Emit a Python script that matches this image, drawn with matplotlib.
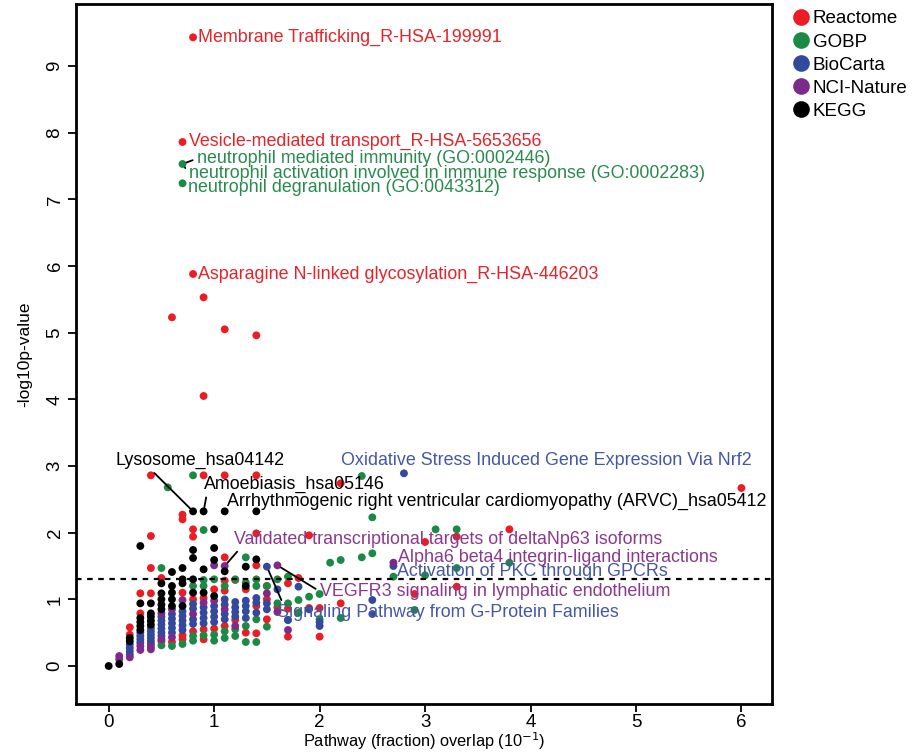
import matplotlib
matplotlib.use("Agg")
import matplotlib.pyplot as plt
from matplotlib.lines import Line2D

plt.rcParams["font.family"] = ["Liberation Sans", "DejaVu Sans"]

# overlap column (x) -> list of -log10 p values, one dict per source
reactome = {
    0.2: [0.58, 0.47],
    0.3: [1.09, 0.79],
    0.4: [2.86, 1.95, 1.47, 1.09],
    0.5: [1.32, 0.37],
    0.6: [5.23, 0.36],
    0.7: [7.86, 2.27, 2.2, 1.1, 0.46, 0.4],
    0.8: [9.43, 5.88, 2.05, 1.94, 1.0, 0.52],
    0.9: [5.53, 4.05, 2.86, 1.02, 0.55, 0.4],
    1.0: [1.15, 0.56],
    1.1: [5.05, 2.86, 1.63, 1.28, 1.13, 0.6],
    1.2: [1.29, 0.69],
    1.3: [1.15, 0.5],
    1.4: [4.96, 2.86, 1.99, 1.51, 0.9, 0.49],
    1.5: [1.2, 1.0, 0.7],
    1.6: [0.88],
    1.7: [1.24, 0.86, 0.44],
    1.8: [1.32],
    1.9: [1.96, 0.87],
    2.0: [0.87, 0.44],
    2.2: [2.74, 0.94],
    2.9: [1.08],
    3.0: [1.86],
    3.3: [1.94, 1.19],
    3.8: [2.05],
    6.0: [2.67],
}
gobp = {
    0.5: [1.47, 0.31],
    0.56: [2.68],
    0.6: [0.3],
    0.7: [7.53, 7.24, 0.33],
    0.8: [2.86, 1.2, 0.45, 0.38],
    0.9: [2.04, 1.29, 1.2, 0.46],
    1.0: [1.3, 0.47, 0.38],
    1.1: [1.2, 0.52, 0.42],
    1.2: [1.3, 0.55, 0.45],
    1.3: [1.63, 1.25, 0.6, 0.36],
    1.4: [1.3, 1.2, 0.7, 0.36],
    1.5: [1.2, 0.59],
    1.6: [1.3, 0.94],
    1.7: [1.34, 0.94, 0.69],
    1.8: [0.99, 0.8],
    1.9: [1.04],
    2.0: [1.08, 0.7],
    2.1: [1.55],
    2.2: [1.59, 0.72],
    2.4: [2.85, 1.63],
    2.5: [2.23, 1.69],
    2.7: [1.34],
    2.9: [0.84],
    3.0: [1.36],
    3.1: [2.05],
    3.3: [2.05, 1.47],
    3.8: [1.55],
}
biocarta = {
    0.2: [0.32, 0.27, 0.22, 0.17],
    0.3: [0.5, 0.45, 0.4, 0.35],
    0.4: [0.57, 0.52, 0.47, 0.42, 0.37, 0.33],
    0.5: [0.74, 0.68, 0.62, 0.56, 0.5, 0.45],
    0.6: [0.78, 0.71, 0.64, 0.57, 0.5],
    0.7: [0.82, 0.75, 0.68, 0.61, 0.54],
    0.8: [0.93, 0.86, 0.7, 0.63],
    0.9: [0.88, 0.8, 0.72, 0.64],
    1.0: [0.9, 0.82, 0.74, 0.66],
    1.1: [1.0, 0.92, 0.78, 0.7],
    1.2: [0.96, 0.88, 0.81, 0.74],
    1.3: [0.98, 0.9, 0.82, 0.72],
    1.4: [1.02, 0.95, 0.8],
    1.5: [1.49, 0.94, 0.85],
    1.6: [1.15],
    1.7: [0.69],
    1.8: [1.19],
    1.9: [0.85],
    2.0: [0.66, 0.6],
    2.5: [0.99, 0.78],
    2.7: [1.5],
    2.8: [2.89],
}
nci_nature = {
    0.1: [0.15, 0.1],
    0.2: [0.13],
    0.3: [0.3, 0.24],
    0.4: [0.29, 0.25],
    0.5: [0.79, 0.4],
    0.6: [0.85, 0.43],
    0.7: [0.99],
    0.8: [0.78],
    0.9: [0.95],
    1.0: [1.51, 0.98],
    1.1: [1.5, 0.85],
    1.2: [0.6],
    1.5: [1.09],
    1.6: [1.51, 0.81],
    1.7: [0.54],
    2.7: [1.55],
}
kegg = {
    0.0: [0.0],
    0.1: [0.03],
    0.2: [0.42, 0.37],
    0.3: [1.8, 0.94, 0.72, 0.66, 0.6, 0.54],
    0.4: [0.94, 0.79, 0.74, 0.68, 0.62],
    0.5: [1.24, 1.09, 1.0, 0.92, 0.85],
    0.6: [1.41, 1.2, 1.1, 1.0, 0.9],
    0.7: [1.47, 1.3, 1.24, 0.9],
    0.8: [2.32, 1.74, 1.62, 1.3, 1.1],
    0.9: [2.32, 1.45, 1.1],
    1.0: [2.05, 1.77, 1.59, 1.05],
    1.1: [2.32, 1.42],
    1.3: [1.49, 1.2],
    1.4: [2.32, 1.6],
}

sources = ["Reactome", "GOBP", "BioCarta", "NCI-Nature", "KEGG"]
source_data = [reactome, gobp, biocarta, nci_nature, kegg]
dot_colors = ["#ec1c24", "#1b8a45", "#33499c", "#7d2a8c", "#000000"]
text_colors = ["#e3242b", "#2a8a50", "#4458a6", "#8a3a8e", "#000000"]

# (label, source index, point x, point y, text x, text y, leader start on text or None)
labels = [
    ("Membrane Trafficking_R-HSA-199991", 0, 0.8, 9.43, 0.845, 9.43, None),
    ("Vesicle-mediated transport_R-HSA-5653656", 0, 0.7, 7.86, 0.76, 7.87, None),
    ("neutrophil mediated immunity (GO:0002446)", 1, 0.7, 7.53, 0.835, 7.61, (0, 0.5)),
    ("neutrophil activation involved in immune response (GO:0002283)", 1, 0.7, 7.53, 0.76, 7.39, (0, 0.5)),
    ("neutrophil degranulation (GO:0043312)", 1, 0.7, 7.24, 0.75, 7.18, None),
    ("Asparagine N-linked glycosylation_R-HSA-446203", 0, 0.8, 5.88, 0.85, 5.88, None),
    ("Lysosome_hsa04142", 4, 0.8, 2.32, 0.06, 3.08, (0.2, 0.1)),
    ("Amoebiasis_hsa05146", 4, 0.9, 2.32, 0.9, 2.72, (0.02, 0.1)),
    ("Arrhythmogenic right ventricular cardiomyopathy (ARVC)_hsa05412", 4, 1.1, 2.32, 1.12, 2.47, None),
    ("Oxidative Stress Induced Gene Expression Via Nrf2", 2, 2.8, 2.89, 2.2, 3.09, None),
    ("Validated transcriptional targets of deltaNp63 isoforms", 3, 1.1, 1.5, 1.19, 1.9, (0.02, 0.15)),
    ("Alpha6 beta4 integrin-ligand interactions", 3, 2.7, 1.55, 2.74, 1.63, None),
    ("Activation of PKC through GPCRs", 2, 2.7, 1.5, 2.73, 1.42, None),
    ("VEGFR3 signaling in lymphatic endothelium", 3, 1.6, 1.51, 2.0, 1.12, (0, 0.5)),
    ("Signaling Pathway from G-Protein Families", 2, 1.5, 1.49, 1.6, 0.8, (0.02, 0.85)),
]

fig = plt.figure(figsize=(9.13, 7.52), dpi=100)
ax = fig.add_axes([76 / 913, 1 - 704 / 752, 696 / 913, 700 / 752])

for data, col in zip(source_data, dot_colors):
    xs = [x for x, ys in data.items() for _ in ys]
    ys = [y for vals in data.values() for y in vals]
    ax.scatter(xs, ys, s=32, color=col, edgecolors="none", zorder=3)

ax.axhline(1.3, color="black", linestyle=(0, (2.5, 2.5)), linewidth=1.6, zorder=4)

for text, si, px, py, tx, ty, rel in labels:
    if rel is not None:
        ax.annotate(text, xy=(px, py), xytext=(tx, ty), color=text_colors[si],
                    fontsize=12.9, va="center", ha="left", zorder=5,
                    arrowprops=dict(arrowstyle="-", color="black", lw=1.3,
                                    shrinkA=1, shrinkB=3, relpos=rel))
    else:
        ax.text(tx, ty, text, color=text_colors[si], fontsize=12.9,
                va="center", ha="left", zorder=5)

ax.set_xlim(-0.31, 6.29)
ax.set_ylim(-0.57, 9.93)
ax.set_xticks(range(7))
ax.set_yticks(range(10))
ax.tick_params(labelsize=13.5, width=1.3, length=6, pad=3)
ax.tick_params(axis="x", pad=1.5)
for lab in ax.get_yticklabels():
    lab.set_rotation(90)
    lab.set_va("center")
for sp in ax.spines.values():
    sp.set_linewidth(2)
ax.set_xlabel("Pathway (fraction) overlap (10$^{-1}$)", fontsize=11.8)
ax.xaxis.set_label_coords(0.5, -0.038)
ax.set_ylabel("-log10p-value", fontsize=12.5, labelpad=10)

handles = [Line2D([], [], marker="o", linestyle="none", markersize=12,
                  markerfacecolor=c, markeredgecolor="none", label=s)
           for s, c in zip(sources, dot_colors)]
fig.legend(handles=handles, loc="upper left", bbox_to_anchor=(779 / 913, 1.0),
           frameon=False, fontsize=13.5, handletextpad=0.05, labelspacing=0.32,
           borderaxespad=0.15, handlelength=1.2)

fig.savefig("out.png", dpi=100)
